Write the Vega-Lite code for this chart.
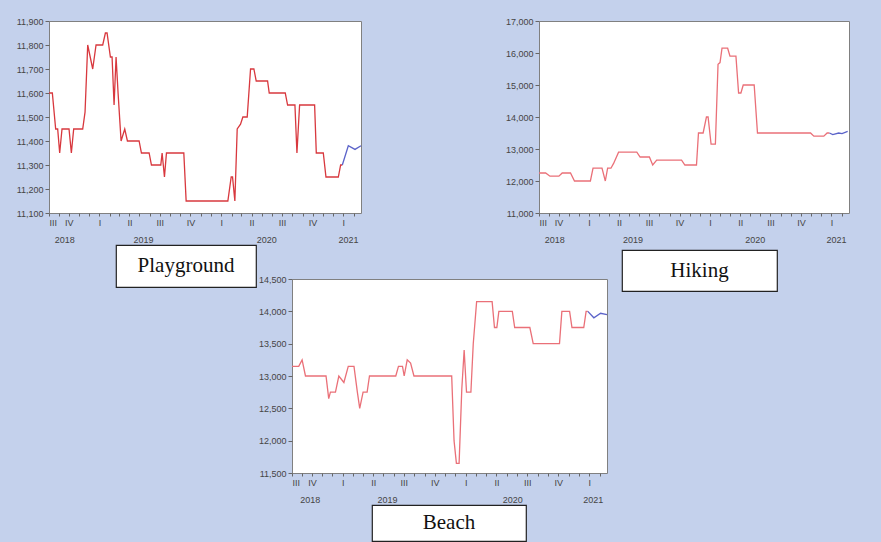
{
  "$schema": "https://vega.github.io/schema/vega-lite/v6.json",
  "background": "#c4d1ec",
  "padding": {"left": 15, "top": 16, "right": 32, "bottom": 1},
  "config": {
    "view": {"stroke": null},
    "axis": {"labelFont": "Liberation Sans", "labelFontSize": 9, "labelColor": "#444", "tickColor": "#666", "grid": false, "title": null, "domain": false, "labelOverlap": false}
  },
  "datasets": {
    "pg": [
      {"d": "2018-08-03", "v": 11600, "s": "a"}, {"d": "2018-08-13", "v": 11600, "s": "a"}, {"d": "2018-08-23", "v": 11450, "s": "a"}, {"d": "2018-08-29", "v": 11450, "s": "a"},
      {"d": "2018-09-04", "v": 11350, "s": "a"}, {"d": "2018-09-11", "v": 11450, "s": "a"}, {"d": "2018-10-02", "v": 11450, "s": "a"}, {"d": "2018-10-09", "v": 11350, "s": "a"},
      {"d": "2018-10-16", "v": 11450, "s": "a"}, {"d": "2018-11-12", "v": 11450, "s": "a"}, {"d": "2018-11-19", "v": 11520, "s": "a"}, {"d": "2018-11-27", "v": 11800, "s": "a"},
      {"d": "2018-12-12", "v": 11700, "s": "a"}, {"d": "2018-12-22", "v": 11800, "s": "a"}, {"d": "2019-01-11", "v": 11800, "s": "a"}, {"d": "2019-01-19", "v": 11850, "s": "a"},
      {"d": "2019-01-24", "v": 11850, "s": "a"}, {"d": "2019-02-03", "v": 11750, "s": "a"}, {"d": "2019-02-08", "v": 11750, "s": "a"}, {"d": "2019-02-14", "v": 11550, "s": "a"},
      {"d": "2019-02-20", "v": 11750, "s": "a"}, {"d": "2019-02-26", "v": 11600, "s": "a"}, {"d": "2019-03-07", "v": 11400, "s": "a"}, {"d": "2019-03-18", "v": 11450, "s": "a"},
      {"d": "2019-03-26", "v": 11400, "s": "a"}, {"d": "2019-04-30", "v": 11400, "s": "a"}, {"d": "2019-05-07", "v": 11350, "s": "a"}, {"d": "2019-05-30", "v": 11350, "s": "a"},
      {"d": "2019-06-06", "v": 11300, "s": "a"}, {"d": "2019-07-04", "v": 11300, "s": "a"}, {"d": "2019-07-08", "v": 11350, "s": "a"}, {"d": "2019-07-15", "v": 11250, "s": "a"},
      {"d": "2019-07-21", "v": 11350, "s": "a"}, {"d": "2019-09-11", "v": 11350, "s": "a"}, {"d": "2019-09-18", "v": 11150, "s": "a"}, {"d": "2020-01-21", "v": 11150, "s": "a"},
      {"d": "2020-01-31", "v": 11250, "s": "a"}, {"d": "2020-02-04", "v": 11250, "s": "a"}, {"d": "2020-02-11", "v": 11150, "s": "a"}, {"d": "2020-02-18", "v": 11450, "s": "a"},
      {"d": "2020-02-28", "v": 11470, "s": "a"}, {"d": "2020-03-06", "v": 11500, "s": "a"}, {"d": "2020-03-19", "v": 11500, "s": "a"}, {"d": "2020-03-29", "v": 11700, "s": "a"},
      {"d": "2020-04-08", "v": 11700, "s": "a"}, {"d": "2020-04-15", "v": 11650, "s": "a"}, {"d": "2020-05-19", "v": 11650, "s": "a"}, {"d": "2020-05-24", "v": 11600, "s": "a"},
      {"d": "2020-07-11", "v": 11600, "s": "a"}, {"d": "2020-07-18", "v": 11550, "s": "a"}, {"d": "2020-08-09", "v": 11550, "s": "a"}, {"d": "2020-08-15", "v": 11350, "s": "a"},
      {"d": "2020-08-23", "v": 11550, "s": "a"}, {"d": "2020-10-07", "v": 11550, "s": "a"}, {"d": "2020-10-12", "v": 11350, "s": "a"}, {"d": "2020-11-02", "v": 11350, "s": "a"},
      {"d": "2020-11-10", "v": 11250, "s": "a"}, {"d": "2020-12-17", "v": 11250, "s": "a"}, {"d": "2020-12-24", "v": 11300, "s": "a"}, {"d": "2020-12-29", "v": 11300, "s": "a"},
      {"d": "2020-12-29", "v": 11300, "s": "f"}, {"d": "2021-01-16", "v": 11380, "s": "f"}, {"d": "2021-02-05", "v": 11365, "s": "f"}, {"d": "2021-02-23", "v": 11380, "s": "f"}
    ],
    "hk": [
      {"d": "2018-08-03", "v": 12250, "s": "a"}, {"d": "2018-08-23", "v": 12250, "s": "a"}, {"d": "2018-09-05", "v": 12150, "s": "a"}, {"d": "2018-10-02", "v": 12150, "s": "a"},
      {"d": "2018-10-12", "v": 12250, "s": "a"}, {"d": "2018-11-06", "v": 12250, "s": "a"}, {"d": "2018-11-18", "v": 12000, "s": "a"}, {"d": "2019-01-05", "v": 12000, "s": "a"},
      {"d": "2019-01-13", "v": 12400, "s": "a"}, {"d": "2019-02-09", "v": 12400, "s": "a"}, {"d": "2019-02-19", "v": 12000, "s": "a"}, {"d": "2019-02-26", "v": 12400, "s": "a"},
      {"d": "2019-03-08", "v": 12400, "s": "a"}, {"d": "2019-03-16", "v": 12550, "s": "a"}, {"d": "2019-03-31", "v": 12900, "s": "a"}, {"d": "2019-05-25", "v": 12900, "s": "a"},
      {"d": "2019-06-04", "v": 12750, "s": "a"}, {"d": "2019-07-02", "v": 12750, "s": "a"}, {"d": "2019-07-12", "v": 12500, "s": "a"}, {"d": "2019-07-24", "v": 12650, "s": "a"},
      {"d": "2019-10-07", "v": 12650, "s": "a"}, {"d": "2019-10-17", "v": 12500, "s": "a"}, {"d": "2019-11-21", "v": 12500, "s": "a"}, {"d": "2019-11-27", "v": 13500, "s": "a"},
      {"d": "2019-12-11", "v": 13500, "s": "a"}, {"d": "2019-12-21", "v": 14000, "s": "a"}, {"d": "2019-12-26", "v": 14000, "s": "a"}, {"d": "2020-01-04", "v": 13150, "s": "a"},
      {"d": "2020-01-17", "v": 13150, "s": "a"}, {"d": "2020-01-25", "v": 15650, "s": "a"}, {"d": "2020-01-31", "v": 15700, "s": "a"}, {"d": "2020-02-06", "v": 16150, "s": "a"},
      {"d": "2020-02-23", "v": 16150, "s": "a"}, {"d": "2020-03-01", "v": 15900, "s": "a"}, {"d": "2020-03-19", "v": 15900, "s": "a"}, {"d": "2020-03-27", "v": 14750, "s": "a"},
      {"d": "2020-04-03", "v": 14750, "s": "a"}, {"d": "2020-04-10", "v": 15000, "s": "a"}, {"d": "2020-05-13", "v": 15000, "s": "a"}, {"d": "2020-05-23", "v": 13500, "s": "a"},
      {"d": "2020-10-30", "v": 13500, "s": "a"}, {"d": "2020-11-09", "v": 13400, "s": "a"}, {"d": "2020-12-09", "v": 13400, "s": "a"}, {"d": "2020-12-19", "v": 13500, "s": "a"},
      {"d": "2020-12-26", "v": 13500, "s": "a"},
      {"d": "2020-12-26", "v": 13500, "s": "f"}, {"d": "2021-01-05", "v": 13450, "s": "f"}, {"d": "2021-01-23", "v": 13500, "s": "f"}, {"d": "2021-02-02", "v": 13480, "s": "f"}, {"d": "2021-02-19", "v": 13550, "s": "f"}
    ],
    "bc": [
      {"d": "2018-08-03", "v": 13150, "s": "a"}, {"d": "2018-08-23", "v": 13150, "s": "a"}, {"d": "2018-09-02", "v": 13250, "s": "a"}, {"d": "2018-09-12", "v": 13000, "s": "a"},
      {"d": "2018-11-12", "v": 13000, "s": "a"}, {"d": "2018-11-20", "v": 12650, "s": "a"}, {"d": "2018-11-25", "v": 12750, "s": "a"}, {"d": "2018-12-10", "v": 12750, "s": "a"},
      {"d": "2018-12-20", "v": 13000, "s": "a"}, {"d": "2019-01-04", "v": 12900, "s": "a"}, {"d": "2019-01-17", "v": 13150, "s": "a"}, {"d": "2019-02-03", "v": 13150, "s": "a"},
      {"d": "2019-02-13", "v": 12750, "s": "a"}, {"d": "2019-02-20", "v": 12500, "s": "a"}, {"d": "2019-03-02", "v": 12750, "s": "a"}, {"d": "2019-03-14", "v": 12750, "s": "a"},
      {"d": "2019-03-21", "v": 13000, "s": "a"}, {"d": "2019-06-07", "v": 13000, "s": "a"}, {"d": "2019-06-15", "v": 13150, "s": "a"}, {"d": "2019-06-27", "v": 13150, "s": "a"},
      {"d": "2019-07-02", "v": 13000, "s": "a"}, {"d": "2019-07-11", "v": 13250, "s": "a"}, {"d": "2019-07-21", "v": 13200, "s": "a"}, {"d": "2019-07-31", "v": 13000, "s": "a"},
      {"d": "2019-11-20", "v": 13000, "s": "a"}, {"d": "2019-11-27", "v": 12000, "s": "a"}, {"d": "2019-12-04", "v": 11650, "s": "a"}, {"d": "2019-12-12", "v": 11650, "s": "a"},
      {"d": "2019-12-20", "v": 12800, "s": "a"}, {"d": "2019-12-27", "v": 13400, "s": "a"}, {"d": "2020-01-03", "v": 12750, "s": "a"}, {"d": "2020-01-16", "v": 12750, "s": "a"},
      {"d": "2020-01-23", "v": 13500, "s": "a"}, {"d": "2020-02-02", "v": 14150, "s": "a"}, {"d": "2020-03-19", "v": 14150, "s": "a"}, {"d": "2020-03-26", "v": 13750, "s": "a"},
      {"d": "2020-04-02", "v": 13750, "s": "a"}, {"d": "2020-04-08", "v": 14000, "s": "a"}, {"d": "2020-05-18", "v": 14000, "s": "a"}, {"d": "2020-05-25", "v": 13750, "s": "a"},
      {"d": "2020-07-09", "v": 13750, "s": "a"}, {"d": "2020-07-19", "v": 13500, "s": "a"}, {"d": "2020-10-05", "v": 13500, "s": "a"}, {"d": "2020-10-12", "v": 14000, "s": "a"},
      {"d": "2020-11-04", "v": 14000, "s": "a"}, {"d": "2020-11-11", "v": 13750, "s": "a"}, {"d": "2020-12-16", "v": 13750, "s": "a"}, {"d": "2020-12-23", "v": 14000, "s": "a"},
      {"d": "2020-12-28", "v": 14000, "s": "a"},
      {"d": "2020-12-28", "v": 14000, "s": "f"}, {"d": "2021-01-15", "v": 13900, "s": "f"}, {"d": "2021-02-04", "v": 13970, "s": "f"}, {"d": "2021-02-23", "v": 13950, "s": "f"}
    ],
    "one": [{"k": 1}]
  },
  "spacing": -5,
  "vconcat": [
    {
      "hconcat": [
        {
          "width": 312, "height": 192,
          "data": {"name": "pg"},
          "view": {"fill": "white", "stroke": "#808080"},
          "encoding": {
            "y": {"field": "v", "type": "quantitative", "scale": {"domain": [11100, 11900], "nice": false, "zero": false}, "axis": {"values": [11100, 11200, 11300, 11400, 11500, 11600, 11700, 11800, 11900], "format": ",.0f", "tickSize": 4, "labelPadding": 2}}
          },
          "layer": [
            {
              "transform": [{"filter": "datum.s == 'a'"}],
              "mark": {"type": "line", "color": "#d8383e", "strokeWidth": 1.3},
              "encoding": {
                "x": {"field": "d", "type": "temporal", "scale": {"type": "utc", "domain": [{"year": 2018, "month": 8, "date": 3, "utc": true}, {"year": 2021, "month": 2, "date": 23, "utc": true}]},
                  "axis": {"tickSize": 3, "labelPadding": 2, "values": [{"year": 2018, "month": 8, "date": 3, "utc": true}, {"year": 2018, "month": 9, "date": 1, "utc": true}, {"year": 2018, "month": 10, "date": 1, "utc": true}, {"year": 2018, "month": 11, "date": 1, "utc": true}, {"year": 2018, "month": 12, "date": 1, "utc": true}, {"year": 2019, "month": 1, "date": 1, "utc": true}, {"year": 2019, "month": 2, "date": 1, "utc": true}, {"year": 2019, "month": 3, "date": 1, "utc": true}, {"year": 2019, "month": 4, "date": 1, "utc": true}, {"year": 2019, "month": 5, "date": 1, "utc": true}, {"year": 2019, "month": 6, "date": 1, "utc": true}, {"year": 2019, "month": 7, "date": 1, "utc": true}, {"year": 2019, "month": 8, "date": 1, "utc": true}, {"year": 2019, "month": 9, "date": 1, "utc": true}, {"year": 2019, "month": 10, "date": 1, "utc": true}, {"year": 2019, "month": 11, "date": 1, "utc": true}, {"year": 2019, "month": 12, "date": 1, "utc": true}, {"year": 2020, "month": 1, "date": 1, "utc": true}, {"year": 2020, "month": 2, "date": 1, "utc": true}, {"year": 2020, "month": 3, "date": 1, "utc": true}, {"year": 2020, "month": 4, "date": 1, "utc": true}, {"year": 2020, "month": 5, "date": 1, "utc": true}, {"year": 2020, "month": 6, "date": 1, "utc": true}, {"year": 2020, "month": 7, "date": 1, "utc": true}, {"year": 2020, "month": 8, "date": 1, "utc": true}, {"year": 2020, "month": 9, "date": 1, "utc": true}, {"year": 2020, "month": 10, "date": 1, "utc": true}, {"year": 2020, "month": 11, "date": 1, "utc": true}, {"year": 2020, "month": 12, "date": 1, "utc": true}, {"year": 2021, "month": 1, "date": 1, "utc": true}, {"year": 2021, "month": 2, "date": 1, "utc": true}],
                    "labelExpr": "utcdate(datum.value) != 1 ? 'III' : (utcmonth(datum.value) == 0 ? 'I' : (utcmonth(datum.value) == 3 ? 'II' : (utcmonth(datum.value) == 6 ? 'III' : (utcmonth(datum.value) == 9 ? 'IV' : ''))))"}}
              }
            },
            {
              "transform": [{"filter": "datum.s == 'f'"}],
              "mark": {"type": "line", "color": "#5b63c9", "strokeWidth": 1.3},
              "encoding": {
                "x": {"field": "d", "type": "temporal", "scale": {"type": "utc", "domain": [{"year": 2018, "month": 8, "date": 3, "utc": true}, {"year": 2021, "month": 2, "date": 23, "utc": true}]},
                  "axis": {"orient": "bottom", "offset": 20, "ticks": false, "labelPadding": 2, "values": [{"year": 2018, "month": 9, "date": 18, "utc": true}, {"year": 2019, "month": 5, "date": 12, "utc": true}, {"year": 2020, "month": 5, "date": 15, "utc": true}, {"year": 2021, "month": 1, "date": 15, "utc": true}], "labelExpr": "utcFormat(datum.value, '%Y')"}}
              }
            }
          ],
          "resolve": {"axis": {"x": "independent"}}
        },
        {
          "width": 310, "height": 192,
          "data": {"name": "hk"},
          "view": {"fill": "white", "stroke": "#808080"},
          "encoding": {
            "y": {"field": "v", "type": "quantitative", "scale": {"domain": [11000, 17000], "nice": false, "zero": false}, "axis": {"values": [11000, 12000, 13000, 14000, 15000, 16000, 17000], "format": ",.0f", "tickSize": 4, "labelPadding": 2}}
          },
          "layer": [
            {
              "transform": [{"filter": "datum.s == 'a'"}],
              "mark": {"type": "line", "color": "#ea7078", "strokeWidth": 1.3},
              "encoding": {
                "x": {"field": "d", "type": "temporal", "scale": {"type": "utc", "domain": [{"year": 2018, "month": 8, "date": 3, "utc": true}, {"year": 2021, "month": 2, "date": 23, "utc": true}]},
                  "axis": {"tickSize": 3, "labelPadding": 2, "values": [{"year": 2018, "month": 8, "date": 3, "utc": true}, {"year": 2018, "month": 9, "date": 1, "utc": true}, {"year": 2018, "month": 10, "date": 1, "utc": true}, {"year": 2018, "month": 11, "date": 1, "utc": true}, {"year": 2018, "month": 12, "date": 1, "utc": true}, {"year": 2019, "month": 1, "date": 1, "utc": true}, {"year": 2019, "month": 2, "date": 1, "utc": true}, {"year": 2019, "month": 3, "date": 1, "utc": true}, {"year": 2019, "month": 4, "date": 1, "utc": true}, {"year": 2019, "month": 5, "date": 1, "utc": true}, {"year": 2019, "month": 6, "date": 1, "utc": true}, {"year": 2019, "month": 7, "date": 1, "utc": true}, {"year": 2019, "month": 8, "date": 1, "utc": true}, {"year": 2019, "month": 9, "date": 1, "utc": true}, {"year": 2019, "month": 10, "date": 1, "utc": true}, {"year": 2019, "month": 11, "date": 1, "utc": true}, {"year": 2019, "month": 12, "date": 1, "utc": true}, {"year": 2020, "month": 1, "date": 1, "utc": true}, {"year": 2020, "month": 2, "date": 1, "utc": true}, {"year": 2020, "month": 3, "date": 1, "utc": true}, {"year": 2020, "month": 4, "date": 1, "utc": true}, {"year": 2020, "month": 5, "date": 1, "utc": true}, {"year": 2020, "month": 6, "date": 1, "utc": true}, {"year": 2020, "month": 7, "date": 1, "utc": true}, {"year": 2020, "month": 8, "date": 1, "utc": true}, {"year": 2020, "month": 9, "date": 1, "utc": true}, {"year": 2020, "month": 10, "date": 1, "utc": true}, {"year": 2020, "month": 11, "date": 1, "utc": true}, {"year": 2020, "month": 12, "date": 1, "utc": true}, {"year": 2021, "month": 1, "date": 1, "utc": true}, {"year": 2021, "month": 2, "date": 1, "utc": true}],
                    "labelExpr": "utcdate(datum.value) != 1 ? 'III' : (utcmonth(datum.value) == 0 ? 'I' : (utcmonth(datum.value) == 3 ? 'II' : (utcmonth(datum.value) == 6 ? 'III' : (utcmonth(datum.value) == 9 ? 'IV' : ''))))"}}
              }
            },
            {
              "transform": [{"filter": "datum.s == 'f'"}],
              "mark": {"type": "line", "color": "#5b63c9", "strokeWidth": 1.3},
              "encoding": {
                "x": {"field": "d", "type": "temporal", "scale": {"type": "utc", "domain": [{"year": 2018, "month": 8, "date": 3, "utc": true}, {"year": 2021, "month": 2, "date": 23, "utc": true}]},
                  "axis": {"orient": "bottom", "offset": 20, "ticks": false, "labelPadding": 2, "values": [{"year": 2018, "month": 9, "date": 18, "utc": true}, {"year": 2019, "month": 5, "date": 12, "utc": true}, {"year": 2020, "month": 5, "date": 15, "utc": true}, {"year": 2021, "month": 1, "date": 15, "utc": true}], "labelExpr": "utcFormat(datum.value, '%Y')"}}
              }
            }
          ],
          "resolve": {"axis": {"x": "independent"}}
        }
      ],
      "spacing": 139
    },
    {
      "spacing": 0,
      "hconcat": [
        {"width": 66, "height": 2, "data": {"name": "one"}, "mark": {"type": "text", "fontSize": 1}, "encoding": {"text": {"value": ""}}},
        {"width": 140, "height": 42, "data": {"values": [{"t": "Playground"}]}, "view": {"fill": "white", "stroke": "#222222", "strokeWidth": 1.2},
          "mark": {"type": "text", "font": "Liberation Serif", "fontSize": 21, "color": "#111111"}, "encoding": {"text": {"field": "t"}}},
        {
          "spacing": -5,
          "vconcat": [
            {"width": 2, "height": 34, "data": {"name": "one"}, "mark": {"type": "text", "fontSize": 1}, "encoding": {"text": {"value": ""}}},
            {
              "width": 315, "height": 194,
              "data": {"name": "bc"},
              "view": {"fill": "white", "stroke": "#808080"},
              "encoding": {
                "y": {"field": "v", "type": "quantitative", "scale": {"domain": [11500, 14500], "nice": false, "zero": false}, "axis": {"values": [11500, 12000, 12500, 13000, 13500, 14000, 14500], "format": ",.0f", "tickSize": 4, "labelPadding": 2}}
              },
              "layer": [
                {
                  "transform": [{"filter": "datum.s == 'a'"}],
                  "mark": {"type": "line", "color": "#ea7078", "strokeWidth": 1.3},
                  "encoding": {
                    "x": {"field": "d", "type": "temporal", "scale": {"type": "utc", "domain": [{"year": 2018, "month": 8, "date": 3, "utc": true}, {"year": 2021, "month": 2, "date": 23, "utc": true}]},
                      "axis": {"tickSize": 3, "labelPadding": 2, "values": [{"year": 2018, "month": 8, "date": 3, "utc": true}, {"year": 2018, "month": 9, "date": 1, "utc": true}, {"year": 2018, "month": 10, "date": 1, "utc": true}, {"year": 2018, "month": 11, "date": 1, "utc": true}, {"year": 2018, "month": 12, "date": 1, "utc": true}, {"year": 2019, "month": 1, "date": 1, "utc": true}, {"year": 2019, "month": 2, "date": 1, "utc": true}, {"year": 2019, "month": 3, "date": 1, "utc": true}, {"year": 2019, "month": 4, "date": 1, "utc": true}, {"year": 2019, "month": 5, "date": 1, "utc": true}, {"year": 2019, "month": 6, "date": 1, "utc": true}, {"year": 2019, "month": 7, "date": 1, "utc": true}, {"year": 2019, "month": 8, "date": 1, "utc": true}, {"year": 2019, "month": 9, "date": 1, "utc": true}, {"year": 2019, "month": 10, "date": 1, "utc": true}, {"year": 2019, "month": 11, "date": 1, "utc": true}, {"year": 2019, "month": 12, "date": 1, "utc": true}, {"year": 2020, "month": 1, "date": 1, "utc": true}, {"year": 2020, "month": 2, "date": 1, "utc": true}, {"year": 2020, "month": 3, "date": 1, "utc": true}, {"year": 2020, "month": 4, "date": 1, "utc": true}, {"year": 2020, "month": 5, "date": 1, "utc": true}, {"year": 2020, "month": 6, "date": 1, "utc": true}, {"year": 2020, "month": 7, "date": 1, "utc": true}, {"year": 2020, "month": 8, "date": 1, "utc": true}, {"year": 2020, "month": 9, "date": 1, "utc": true}, {"year": 2020, "month": 10, "date": 1, "utc": true}, {"year": 2020, "month": 11, "date": 1, "utc": true}, {"year": 2020, "month": 12, "date": 1, "utc": true}, {"year": 2021, "month": 1, "date": 1, "utc": true}, {"year": 2021, "month": 2, "date": 1, "utc": true}],
                        "labelExpr": "utcdate(datum.value) != 1 ? 'III' : (utcmonth(datum.value) == 0 ? 'I' : (utcmonth(datum.value) == 3 ? 'II' : (utcmonth(datum.value) == 6 ? 'III' : (utcmonth(datum.value) == 9 ? 'IV' : ''))))"}}
                  }
                },
                {
                  "transform": [{"filter": "datum.s == 'f'"}],
                  "mark": {"type": "line", "color": "#5b63c9", "strokeWidth": 1.3},
                  "encoding": {
                    "x": {"field": "d", "type": "temporal", "scale": {"type": "utc", "domain": [{"year": 2018, "month": 8, "date": 3, "utc": true}, {"year": 2021, "month": 2, "date": 23, "utc": true}]},
                      "axis": {"orient": "bottom", "offset": 20, "ticks": false, "labelPadding": 2, "values": [{"year": 2018, "month": 9, "date": 25, "utc": true}, {"year": 2019, "month": 5, "date": 12, "utc": true}, {"year": 2020, "month": 5, "date": 18, "utc": true}, {"year": 2021, "month": 1, "date": 12, "utc": true}], "labelExpr": "utcFormat(datum.value, '%Y')"}}
                  }
                }
              ],
              "resolve": {"axis": {"x": "independent"}}
            },
            {
              "spacing": 0,
              "hconcat": [
                {"width": 79, "height": 2, "data": {"name": "one"}, "mark": {"type": "text", "fontSize": 1}, "encoding": {"text": {"value": ""}}},
                {"width": 154, "height": 36, "data": {"values": [{"t": "Beach"}]}, "view": {"fill": "white", "stroke": "#222222", "strokeWidth": 1.2},
                  "mark": {"type": "text", "font": "Liberation Serif", "fontSize": 21, "color": "#111111"}, "encoding": {"text": {"field": "t"}}}
              ]
            }
          ]
        },
        {"width": 10, "height": 2, "data": {"name": "one"}, "mark": {"type": "text", "fontSize": 1}, "encoding": {"text": {"value": ""}}},
        {
          "spacing": 0,
          "vconcat": [
            {"width": 2, "height": 4, "data": {"name": "one"}, "mark": {"type": "text", "fontSize": 1}, "encoding": {"text": {"value": ""}}},
            {"width": 155, "height": 41, "data": {"values": [{"t": "Hiking"}]}, "view": {"fill": "white", "stroke": "#222222", "strokeWidth": 1.2},
              "mark": {"type": "text", "font": "Liberation Serif", "fontSize": 21, "color": "#111111"}, "encoding": {"text": {"field": "t"}}}
          ]
        }
      ]
    }
  ]
}
